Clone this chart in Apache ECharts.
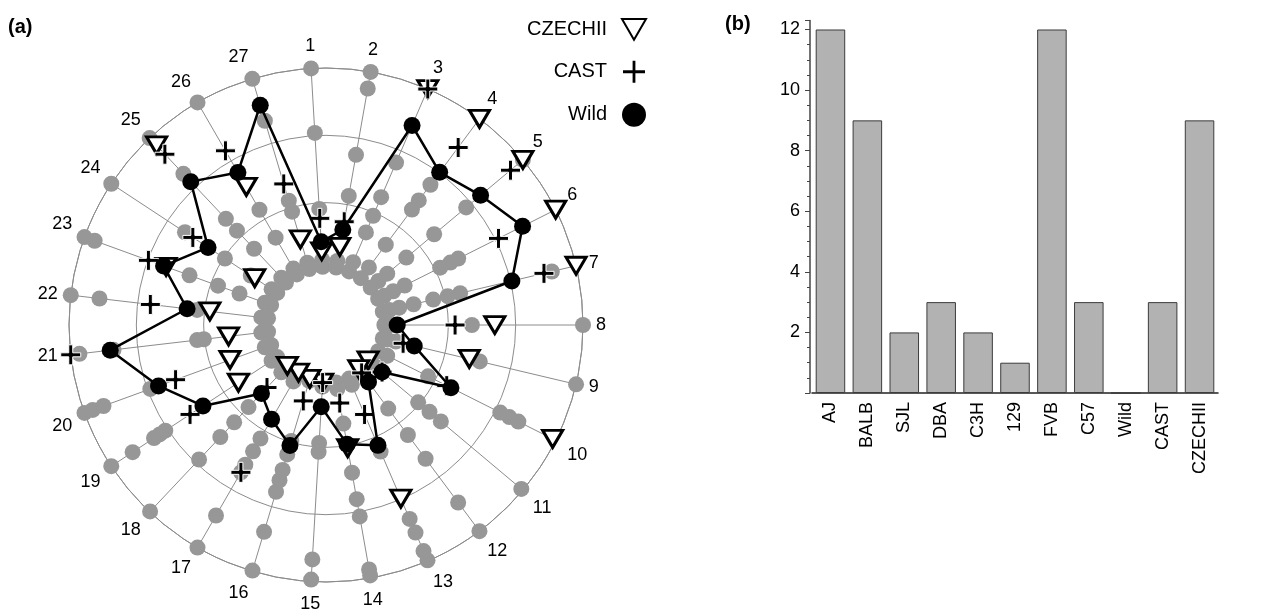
<!DOCTYPE html>
<html>
<head>
<meta charset="utf-8">
<title>Allele distribution</title>
<script src="https://cdn.jsdelivr.net/npm/echarts@6/dist/echarts.min.js"></script>
<style>
  html, body { margin: 0; padding: 0; background: #fff; }
  #main { width: 1265px; height: 616px; }
</style>
</head>
<body>
<div id="main"></div>
<script>
  // spoke labels of panel (a)
  const spokeLabels = ['1','2','3','4','5','6','7','8','9','10','11','12','13','14',
    '15','16','17','18','19','20','21','22','23','24','25','26','27'];

  // radial values per spoke (ring units 0..3)
  const czechii = [0.28, 0.36, 3.0, 3.0, 3.0, 3.0, 3.0, 1.69, 1.37, 2.95, 0.0, 0.0, 1.99, 1.04,
    0.04, 0.02, 0.0, 0.02, 0.74, 0.70, 0.64, 0.92, 1.71, 0.45, 2.85, 1.55, 0.51];
  const cast = [0.77, 0.74, 3.0, 2.47, 2.76, 2.05, 2.51, 1.10, 0.36, 1.19, 0.27, 0.07, 0.63, 0.36,
    0.04, 0.36, 1.71, 0.46, 1.60, 1.56, 3.0, 1.81, 1.99, 1.55, 2.67, 2.17, 1.37];
  const wild = [0.42, 0.62, 2.41, 2.01, 2.18, 2.45, 2.02, 0.24, 0.53, 1.26, 0.27, 0.24, 1.13, 0.98,
    0.40, 1.05, 0.80, 0.58, 1.37, 1.83, 2.41, 1.26, 1.75, 1.28, 2.11, 1.80, 2.59];

  // lab strains (grey dots), one list per spoke
  const labStrains = [
    [3.0, 2.04, 0.91, 0.15, 0.05],
    [3.0, 2.75, 1.75, 1.13, 0.15, 0.05],
    [1.81, 1.25, 0.95, 0.68, 0.2, 0.05],
    [1.78, 1.49, 1.32, 0.67, 0.25, 0.05],
    [3.0, 1.90, 1.28, 0.74, 0.37, 0.2, 0.05],
    [1.38, 1.25, 1.08, 0.49, 0.3, 0.15, 0.05],
    [2.63, 1.23, 1.04, 0.82, 0.52, 0.3, 0.15, 0.05],
    [3.0, 1.35, 0.25, 0.15, 0.05],
    [3.0, 1.53, 0.25, 0.12, 0.05],
    [2.38, 2.23, 2.08, 0.88, 0.2, 0.05],
    [2.97, 1.41, 1.19, 0.97, 0.15, 0.05],
    [3.0, 2.47, 1.66, 1.22, 0.73, 0.15, 0.05],
    [2.99, 2.84, 2.54, 2.32, 1.23, 0.15, 0.05],
    [2.96, 2.87, 2.07, 1.81, 1.41, 0.67, 0.15, 0.05],
    [2.97, 2.67, 1.07, 0.94, 0.1, 0.05],
    [2.99, 2.39, 1.77, 1.59, 1.43, 1.19, 0.98, 0.05],
    [3.0, 2.45, 1.71, 1.58, 1.35, 1.13, 0.15, 0.05],
    [2.99, 1.93, 1.47, 1.17, 0.86, 0.15, 0.05],
    [3.0, 2.62, 2.24, 2.14, 2.04, 0.15, 0.05],
    [3.0, 2.87, 2.70, 1.96, 0.15, 0.05],
    [2.87, 2.36, 1.11, 1.01, 0.15, 0.05],
    [3.0, 2.57, 1.11, 0.15, 0.05],
    [3.0, 2.84, 1.34, 0.89, 0.55, 0.15, 0.05],
    [3.0, 1.69, 0.98, 0.52, 0.15, 0.05],
    [3.0, 2.27, 1.35, 1.11, 0.74, 0.15, 0.05],
    [3.0, 1.16, 0.68, 0.15, 0.05],
    [3.0, 2.35, 1.11, 0.94, 0.15, 0.05]
  ];

  // panel (b)
  const strains = ['AJ', 'BALB', 'SJL', 'DBA', 'C3H', '129', 'FVB', 'C57', 'Wild', 'CAST', 'CZECHII'];
  const counts = [12, 9, 2, 3, 2, 1, 12, 3, 0, 3, 9];

  const triPath = 'path://M0,0L22,0L11,19Z';
  const plusPath = 'path://M8,0H12V8H20V12H12V20H8V12H0V8H8Z';
  const font = '"Liberation Sans", Arial, Helvetica, sans-serif';

  const toPolar = vals => vals.map((v, i) => [v, i]);
  const labData = [];
  labStrains.forEach((list, i) => list.forEach(v => labData.push([v, i])));
  const wildLine = toPolar(wild).concat([[wild[0], 27]]);

  const chart = echarts.init(document.getElementById('main'));
  const option = {
    animation: false,
    backgroundColor: '#fff',
    textStyle: { fontFamily: font },
    polar: { center: [326, 325], radius: [55, 257] },
    angleAxis: {
      type: 'value', min: 0, max: 27, interval: 1,
      startAngle: 93.33, clockwise: true,
      axisLine: { lineStyle: { color: '#8c8c8c', width: 1 } },
      axisTick: { show: false },
      axisLabel: {
        margin: 13, fontSize: 18, color: '#000',
        formatter: v => (v >= 27 ? '' : spokeLabels[v])
      },
      splitLine: { show: true, lineStyle: { color: '#8c8c8c', width: 1 } }
    },
    radiusAxis: {
      type: 'value', min: 0, max: 3, interval: 1,
      axisLine: { show: false }, axisTick: { show: false }, axisLabel: { show: false },
      splitLine: { show: true, lineStyle: { color: '#8c8c8c', width: 1 } }
    },
    grid: { left: 812, width: 406, top: 20.4, bottom: 223 },
    xAxis: {
      type: 'category', data: strains,
      axisLine: { lineStyle: { color: '#222', width: 1.5 } },
      axisTick: { show: false },
      axisLabel: { rotate: 90, fontSize: 18, color: '#000', margin: 9 }
    },
    yAxis: {
      type: 'value', min: 0, max: 12.3, interval: 2, offset: 2,
      axisLine: { show: true, lineStyle: { color: '#444', width: 1.5 } },
      axisTick: { show: true, length: 5, lineStyle: { color: '#444' } },
      minorTick: { show: true, splitNumber: 4, length: 3, lineStyle: { color: '#444' } },
      axisLabel: { fontSize: 18, color: '#000', margin: 10, showMinLabel: false, showMaxLabel: false },
      splitLine: { show: false }
    },
    legend: {
      orient: 'vertical', right: 613, top: 13, align: 'right',
      itemWidth: 24, itemHeight: 24, itemGap: 18,
      textStyle: { fontSize: 20, color: '#000', padding: [0, 10, 0, 0] },
      data: [
        { name: 'CZECHII', icon: triPath },
        { name: 'CAST', icon: plusPath },
        { name: 'Wild', icon: 'circle' }
      ]
    },
    graphic: [
      { type: 'text', left: 8, top: 17, style: { text: '(a)', font: 'bold 20px ' + font, fill: '#000' } },
      { type: 'text', left: 725, top: 14, style: { text: '(b)', font: 'bold 20px ' + font, fill: '#000' } }
    ],
    series: [
      {
        name: 'lab', type: 'scatter', coordinateSystem: 'polar',
        symbolSize: 16, itemStyle: { color: '#979797', opacity: 1 }, data: labData
      },
      {
        name: 'CZECHII', type: 'scatter', coordinateSystem: 'polar',
        symbol: triPath, symbolSize: [20, 17],
        itemStyle: { color: '#fff', borderColor: '#000', borderWidth: 3, opacity: 1 },
        data: toPolar(czechii)
      },
      {
        name: 'CAST', type: 'scatter', coordinateSystem: 'polar',
        symbol: plusPath, symbolSize: 20,
        itemStyle: { color: '#000', borderColor: '#fff', borderWidth: 1, opacity: 1 },
        data: toPolar(cast)
      },
      {
        name: 'wildLine', type: 'line', coordinateSystem: 'polar',
        showSymbol: false, lineStyle: { color: '#000', width: 2.5 }, data: wildLine
      },
      {
        name: 'Wild', type: 'scatter', coordinateSystem: 'polar',
        symbolSize: 17, itemStyle: { color: '#000', opacity: 1 }, data: toPolar(wild)
      },
      {
        name: 'counts', type: 'bar', data: counts, barCategoryGap: '20%',
        itemStyle: { color: '#b2b2b2', borderColor: '#3c3c3c', borderWidth: 1 }
      }
    ]
  };
  chart.setOption(option);
</script>
</body>
</html>
